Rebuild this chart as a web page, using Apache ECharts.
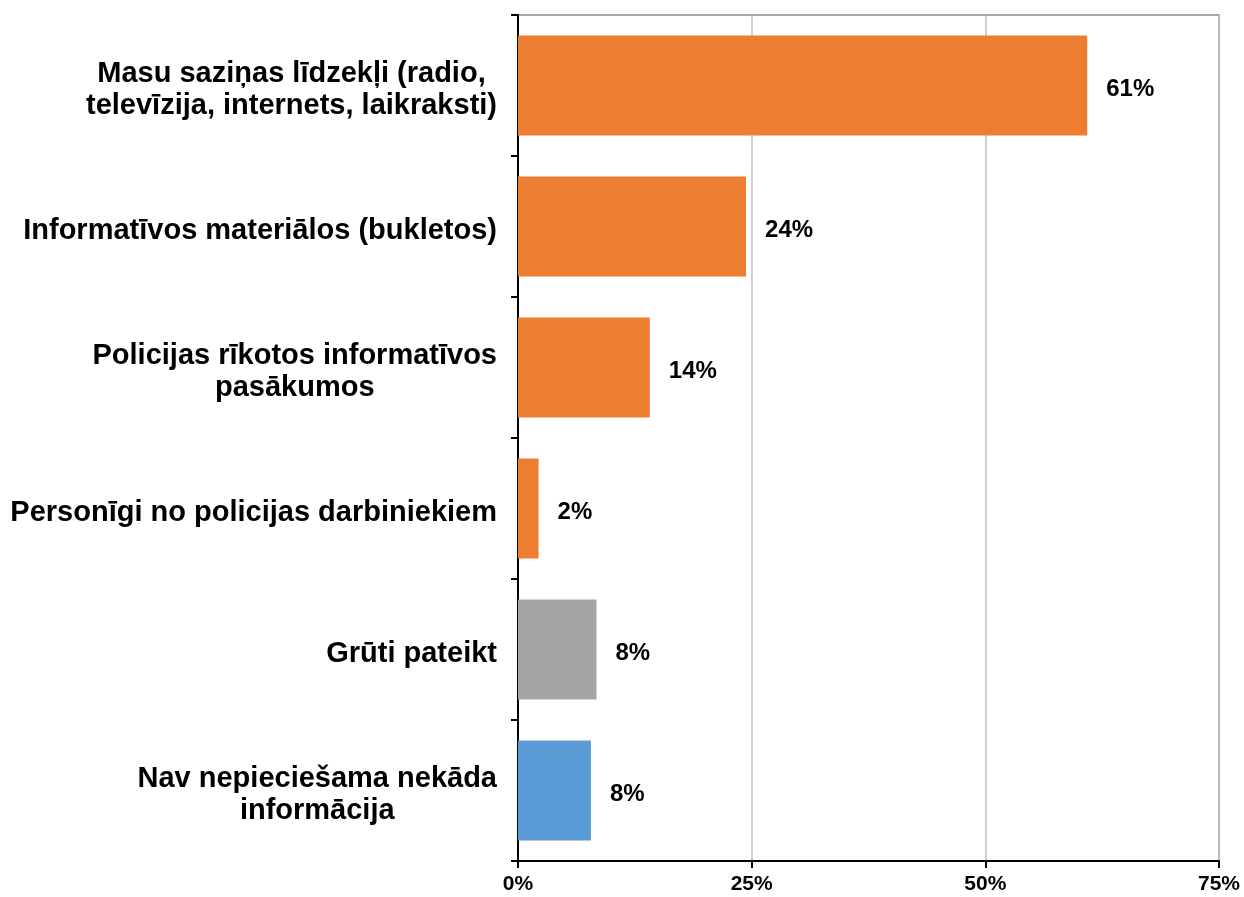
<!DOCTYPE html>
<html><head><meta charset="utf-8">
<script src="https://cdn.jsdelivr.net/npm/echarts@6/dist/echarts.min.js"></script>
<style>html,body{margin:0;padding:0;background:#fff}#c{width:1244px;height:897px}</style>
</head><body><div id="c"></div>
<script>
const categories = [
  'Masu saziņas līdzekļi (radio,\ntelevīzija, internets, laikraksti)',
  'Informatīvos materiālos (bukletos)',
  'Policijas rīkotos informatīvos\npasākumos',
  'Personīgi no policijas darbiniekiem',
  'Grūti pateikt',
  'Nav nepieciešama nekāda\ninformācija'
];
const values = [60.9, 24.4, 14.1, 2.2, 8.4, 7.8];
const groups = ['source', 'source', 'source', 'source', 'unsure', 'none'];
const xTickValues = [0, 25, 50, 75];

const groupColors = { source: '#ED7D31', unsure: '#A5A5A5', none: '#5B9BD5' };
const FONT = '"Liberation Sans", Arial, sans-serif';

const chart = echarts.init(document.getElementById('c'));
chart.setOption({
  animation: false,
  backgroundColor: '#fff',
  grid: {
    left: 518, right: 25, top: 15, bottom: 36,
    show: true, borderColor: '#898989', borderWidth: 1.5,
    containLabel: false, outerBoundsMode: 'none'
  },
  xAxis: {
    type: 'value',
    min: xTickValues[0], max: xTickValues[xTickValues.length - 1],
    interval: xTickValues[1] - xTickValues[0],
    axisLine: { show: true, lineStyle: { color: '#000', width: 2 } },
    axisTick: { show: true, length: 7, lineStyle: { color: '#000', width: 2 } },
    axisLabel: {
      formatter: '{value}%', color: '#000', fontWeight: 'bold',
      fontSize: 21, fontFamily: FONT, margin: 13
    },
    splitLine: { show: true, lineStyle: { color: '#C0C0C0', width: 1.5 } }
  },
  yAxis: {
    type: 'category',
    data: categories,
    inverse: true,
    axisLine: { show: true, lineStyle: { color: '#000', width: 2 } },
    axisTick: { show: true, length: 7, lineStyle: { color: '#000', width: 2 } },
    axisLabel: {
      color: '#000', fontWeight: 'bold', fontSize: 29, fontFamily: FONT,
      margin: 21, lineHeight: 32, padding: [8, 0, 0, 0],
      formatter: function (v) {
        return v.split('\n').map(function (l) { return '{c|' + l + '}'; }).join('\n');
      },
      rich: {
        c: { align: 'center', color: '#000', fontWeight: 'bold', fontSize: 29, fontFamily: FONT, lineHeight: 32 }
      }
    },
    splitLine: { show: false }
  },
  series: [{
    type: 'bar',
    barCategoryGap: '29%',
    data: values.map(function (v, i) {
      return { value: v, itemStyle: { color: groupColors[groups[i]] } };
    }),
    label: {
      show: true, position: 'right', distance: 19, offset: [0, 4],
      formatter: function (p) { return Math.round(p.value) + '%'; },
      color: '#000', fontWeight: 'bold', fontSize: 24, fontFamily: FONT
    }
  }]
});
</script>
</body></html>
